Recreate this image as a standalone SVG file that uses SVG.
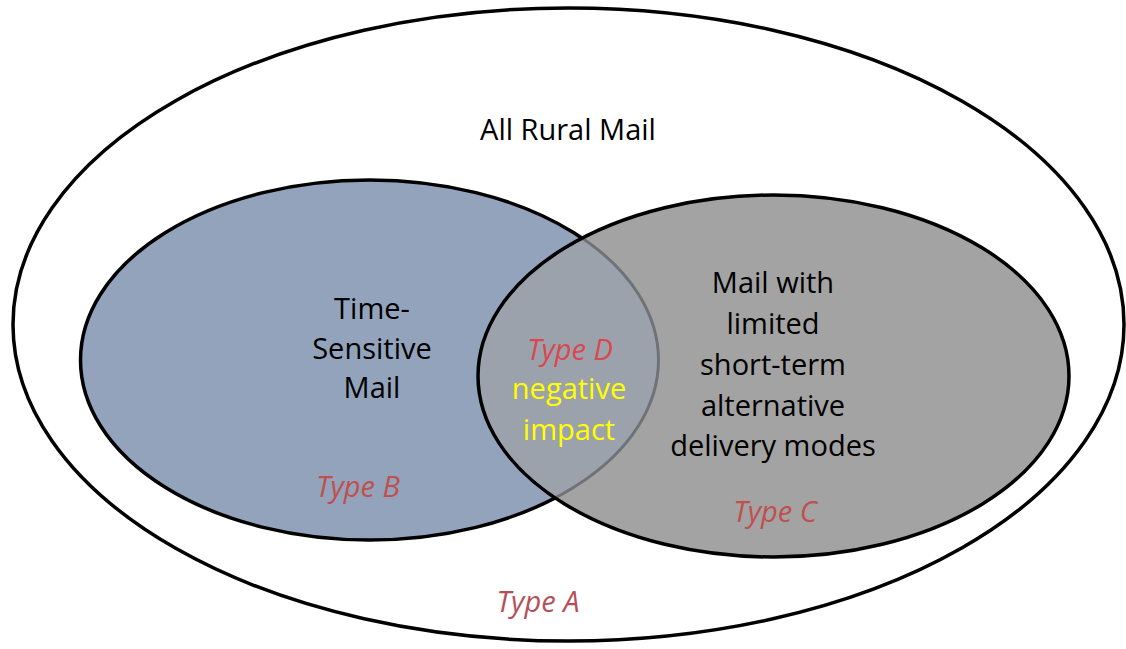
<svg xmlns="http://www.w3.org/2000/svg" width="1126" height="649" viewBox="0 0 1126 649">
<style>
.lbl{font-family:"Open Sans","Liberation Sans",sans-serif;font-size:29px;fill:#000;text-anchor:middle}
.typ{font-family:"Open Sans","Liberation Sans",sans-serif;font-size:29px;font-style:italic;fill:#C0504D;text-anchor:middle}
.imp{font-family:"Open Sans","Liberation Sans",sans-serif;font-size:29px;fill:#FFFF00;text-anchor:middle}
.edge{stroke:#000;stroke-width:3.5}
</style>
<defs>
<clipPath id="inBlue"><ellipse cx="369.5" cy="360" rx="289" ry="180"/></clipPath>
<clipPath id="inGrey"><ellipse cx="773.5" cy="376" rx="295.5" ry="181"/></clipPath>
</defs>
<rect width="1126" height="649" fill="#fff"/>
<g id="all-rural-mail">
<ellipse class="edge" cx="568.5" cy="324.5" rx="555.5" ry="316.5" fill="#fff"/>
<text class="lbl" x="568" y="140">All Rural Mail</text>
<text class="typ" x="538" y="612" style="fill:#B5505A">Type A</text>
</g>
<g id="time-sensitive">
<ellipse class="edge" cx="369.5" cy="360" rx="289" ry="180" fill="#92A3BB"/>
</g>
<g id="limited-alternatives">
<ellipse cx="773.5" cy="376" rx="295.5" ry="181" fill="#A3A3A3"/>
</g>
<g id="overlap-region">
<ellipse cx="773.5" cy="376" rx="295.5" ry="181" fill="#9CA2AC" clip-path="url(#inBlue)"/>
<ellipse cx="369.5" cy="360" rx="289" ry="180" fill="none" stroke="#6F7276" stroke-width="3" clip-path="url(#inGrey)"/>
<ellipse class="edge" cx="773.5" cy="376" rx="295.5" ry="181" fill="none"/>
</g>
<g id="labels">
<text class="lbl" x="372" y="319">Time-</text>
<text class="lbl" x="372" y="359">Sensitive</text>
<text class="lbl" x="372" y="398">Mail</text>
<text class="typ" x="358" y="497">Type B</text>
<text class="lbl" x="773" y="293">Mail with</text>
<text class="lbl" x="773" y="334">limited</text>
<text class="lbl" x="773" y="375">short-term</text>
<text class="lbl" x="773" y="416">alternative</text>
<text class="lbl" x="773" y="456">delivery modes</text>
<text class="typ" x="775" y="522">Type C</text>
</g>
<g id="overlap">
<text class="typ" x="570" y="360" style="fill:#D9484F">Type D</text>
<text class="imp" x="569" y="399">negative</text>
<text class="imp" x="569" y="440">impact</text>
</g>
</svg>
